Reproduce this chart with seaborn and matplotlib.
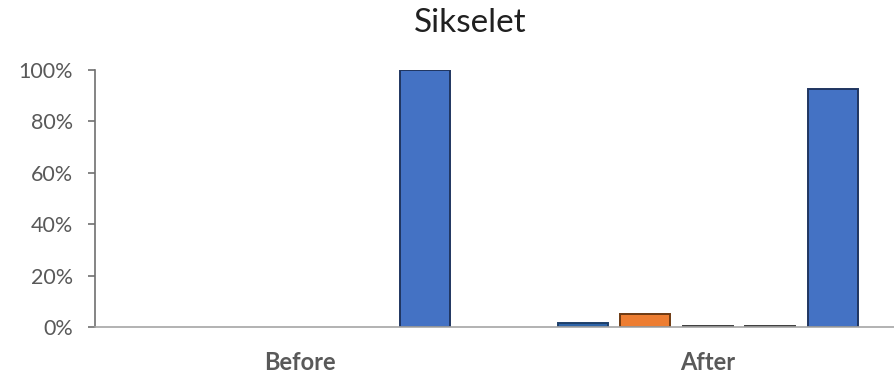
import matplotlib
matplotlib.use("Agg")
import matplotlib.pyplot as plt
import matplotlib.ticker as mticker
import seaborn as sns
import pandas as pd

# Share of responses per category, before and after
periods = ["Before", "After"]
series = ["S1", "S2", "S3", "S4", "S5"]
before_values = [0.0, 0.0, 0.0, 0.0, 1.00]
after_values = [0.015, 0.05, 0.004, 0.004, 0.925]
colors = ["#2E64A8", "#ED7D31", "#A5A5A5", "#FFC000", "#4472C4"]
edge_colors = ["#1E3F6A", "#6E3A12", "#3C3C3C", "#3C3C3C", "#1F3560"]

df = pd.DataFrame({
    "period": [p for p in periods for _ in series],
    "series": series * 2,
    "value": before_values + after_values,
})

sns.set_theme(style="white")
plt.rcParams["font.family"] = ["Lato", "DejaVu Sans"]

fig = plt.figure(figsize=(8.94, 3.78), dpi=100)
ax = fig.add_axes([95 / 894, 51 / 378, 1 - 95 / 894, (327 - 70) / 378])

sns.barplot(data=df, x="period", y="value", hue="series", order=periods,
            hue_order=series, palette=colors, width=0.766, gap=0.2,
            linewidth=1.4, edgecolor="#333333", legend=False, ax=ax,
            saturation=1)

# darker outline per series; empty bars draw nothing
for cont, ec in zip(ax.containers, edge_colors):
    for bar in cont:
        bar.set_edgecolor(ec)
        if bar.get_height() == 0:
            bar.set_linewidth(0)

ax.set_xlim(-0.502, 1.456)
ax.set_ylim(0, 1.0)
ax.yaxis.set_major_locator(mticker.MultipleLocator(0.2))
ax.yaxis.set_major_formatter(mticker.PercentFormatter(1.0, decimals=0))

ax.set_xlabel("")
ax.set_ylabel("")
for side in ["top", "right"]:
    ax.spines[side].set_visible(False)
ax.spines["left"].set_color("#707070")
ax.spines["left"].set_linewidth(1.2)
ax.spines["bottom"].set_color("#A6A6A6")
ax.spines["bottom"].set_linewidth(1.2)

ax.tick_params(axis="y", which="major", left=True, length=5, width=1.2,
               color="#707070", labelsize=15.5, labelcolor="#595959", pad=11)
ax.tick_params(axis="x", bottom=False, labelsize=17, labelcolor="#595959",
               pad=11)
for lbl in ax.get_xticklabels():
    lbl.set_fontweight("bold")

fig.text(470 / 894, 1 - 23 / 378, "Sikselet", ha="center", va="center",
         fontsize=24, color="#202020")

fig.savefig("out.png", dpi=100)
